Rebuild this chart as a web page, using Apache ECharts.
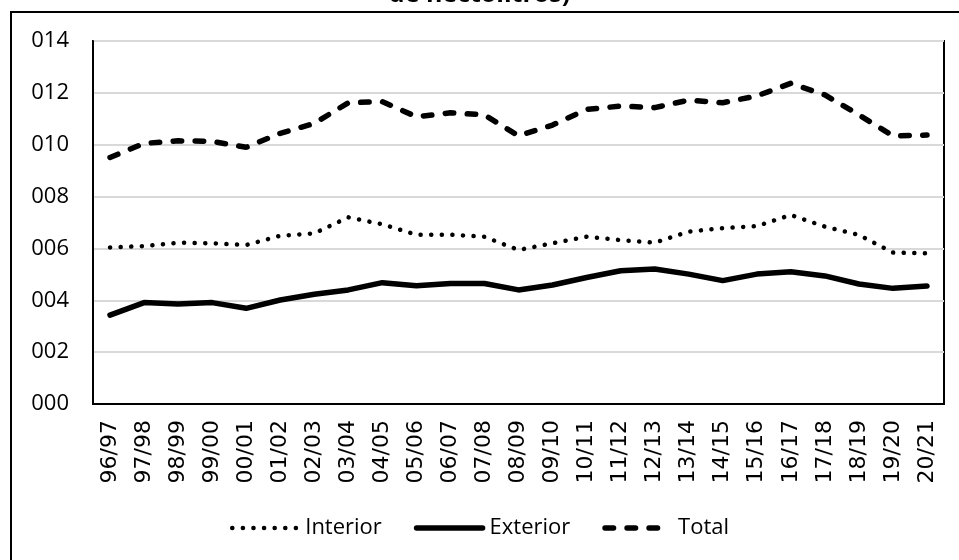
<!DOCTYPE html>
<html><head><meta charset="utf-8">
<script src="https://cdn.jsdelivr.net/npm/echarts@6/dist/echarts.min.js"></script>
<style>html,body{margin:0;padding:0;background:#fff}#c{width:959px;height:560px}</style>
</head><body><div id="c"></div>
<script>
const categories = ["96/97","97/98","98/99","99/00","00/01","01/02","02/03","03/04","04/05","05/06","06/07","07/08","08/09","09/10","10/11","11/12","12/13","13/14","14/15","15/16","16/17","17/18","18/19","19/20","20/21"];
const interior = [6.04,6.09,6.22,6.2,6.13,6.49,6.58,7.2,6.93,6.53,6.53,6.45,5.94,6.2,6.45,6.32,6.22,6.65,6.78,6.86,7.29,6.84,6.52,5.84,5.81];
const exterior = [3.43,3.91,3.86,3.91,3.69,4.01,4.23,4.4,4.68,4.56,4.65,4.65,4.4,4.59,4.88,5.14,5.21,5.01,4.76,5.01,5.1,4.94,4.63,4.46,4.55];
const total = [9.51,10.05,10.15,10.13,9.9,10.44,10.82,11.62,11.66,11.08,11.23,11.15,10.34,10.76,11.36,11.49,11.43,11.72,11.62,11.88,12.37,11.92,11.15,10.34,10.37];
const yTicks = {min:0, max:14, interval:2};
const titleText = "de hectolitros)";

const dotStyle = {color:'#000', width:4.5, type:[0.1,10.5], cap:'round'};
const solidStyle = {color:'#000', width:5.5, type:'solid', cap:'round', join:'round'};
const dashStyle = {color:'#000', width:5.5, type:[8.5,13.5], cap:'round'};

const chart = echarts.init(document.getElementById('c'));
const fmt = v => String(Math.round(v)).padStart(3,'0');
chart.setOption({
  animation:false,
  graphic:[
    {type:'rect', shape:{x:11,y:12,width:1000,height:600}, style:{fill:'none',stroke:'#000',lineWidth:2}, z:-1},
    {type:'text', left:'center', top:-18, style:{text:titleText, font:'bold 25px "Open Sans"', fill:'#000'}}
  ],
  grid:[{left:93, top:41, right:15, bottom:156, show:true, borderColor:'#000', borderWidth:2, backgroundColor:'transparent'}],
  xAxis:[{type:'category', data:categories, boundaryGap:true,
    axisLine:{lineStyle:{color:'#000',width:2}}, axisTick:{show:false},
    axisLabel:{show:true, rotate:90, interval:0, margin:16, fontSize:22, fontFamily:'DejaVu Sans', color:'#000'}}],
  yAxis:[{type:'value', min:yTicks.min, max:yTicks.max, interval:yTicks.interval,
    axisLine:{show:true, lineStyle:{color:'#000',width:2}}, axisTick:{show:false},
    splitLine:{lineStyle:{color:'#d9d9d9',width:2}},
    axisLabel:{formatter:fmt, color:'#000', fontFamily:'Open Sans', fontSize:22, margin:24}}],
  legend:{top:512, left:'center', itemWidth:66, itemHeight:14, itemGap:32,
    textStyle:{fontFamily:'Open Sans', fontSize:22, color:'#000', padding:[0,0,0,2]},
    data:[
      {name:'Interior', itemStyle:{opacity:0}, lineStyle:dotStyle},
      {name:'Exterior', itemStyle:{opacity:0}, lineStyle:solidStyle},
      {name:'Total', itemStyle:{opacity:0}, lineStyle:dashStyle}
    ]},
  series:[
    {name:'Interior', type:'line', data:interior, symbol:'none', showSymbol:false, lineStyle:dotStyle, itemStyle:{color:'#000'}},
    {name:'Exterior', type:'line', data:exterior, symbol:'none', showSymbol:false, lineStyle:solidStyle, itemStyle:{color:'#000'}},
    {name:'Total', type:'line', data:total, symbol:'none', showSymbol:false, lineStyle:dashStyle, itemStyle:{color:'#000'}}
  ]
});
</script></body></html>
